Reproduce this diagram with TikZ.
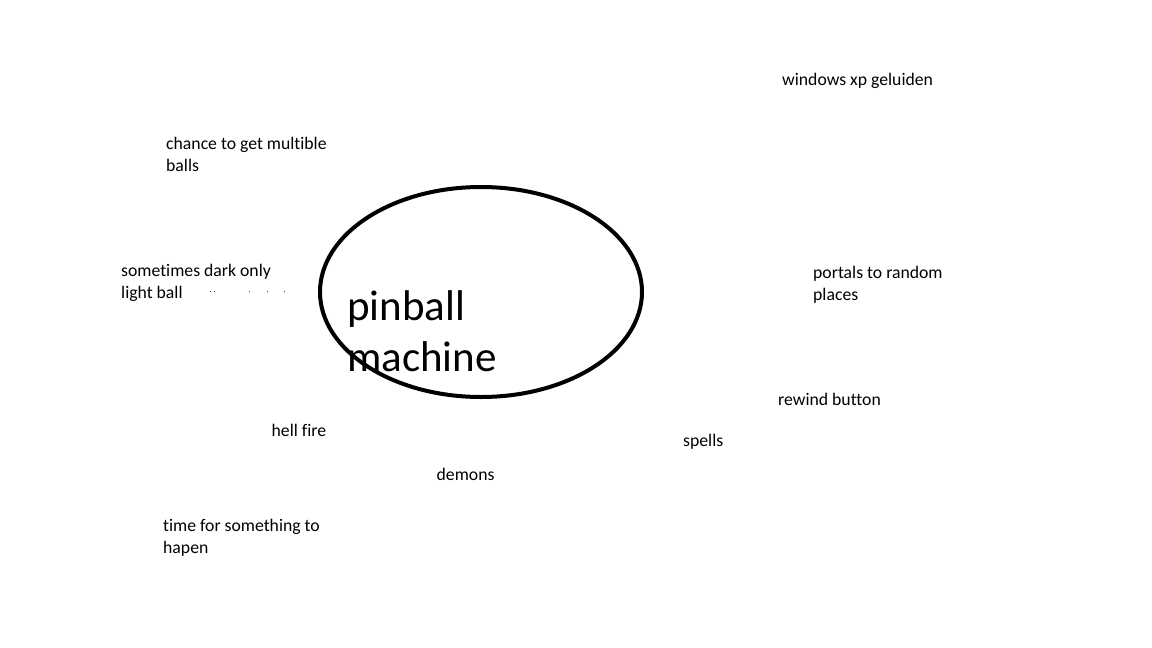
\documentclass[tikz,border=0pt]{standalone}
\usepackage{fontspec}
\setmainfont[Ligatures=NoCommon]{Carlito}
\begin{document}
\begin{tikzpicture}[x=1pt,y=-1pt,
  lbl/.style={anchor=base west,inner sep=0pt,align=left,font=\fontsize{17.7}{22}\selectfont},
  big/.style={anchor=base west,inner sep=0pt,align=left,font=\fontsize{43}{51}\selectfont},
  dotmark/.style={fill=black!75,draw=none}]
\useasboundingbox[fill=white] (0,0) rectangle (1152,648);
% multi-line nodes: base anchor is the last line's baseline
\node[lbl] (xp) at (782,85) {windows xp geluiden};
\node[lbl] (balls) at (166,171) {chance to get multible\\balls};
\node[lbl] (dark) at (121,298) {sometimes dark only\\light ball};
\node[lbl] (portals) at (813,300.5) {portals to random\\places};
\node[lbl] (rewind) at (778,405) {rewind button};
\node[lbl] (spells) at (683,446.7) {spells};
\node[lbl] (hell) at (271.5,436.7) {hell fire};
\node[lbl] (demons) at (436.5,480.5) {demons};
\node[lbl] (time) at (163,553.5) {time for something to\\hapen};
\node[big] (pin) at (347,371) {pinball\\machine};
\foreach \dx in {209.5,213.5,249,266.5,283.5}
  \fill[dotmark] (\dx,291) rectangle ++(1.4,1.4);
\draw[line width=4pt] (481,292) ellipse[x radius=161,y radius=105];
\end{tikzpicture}
\end{document}
